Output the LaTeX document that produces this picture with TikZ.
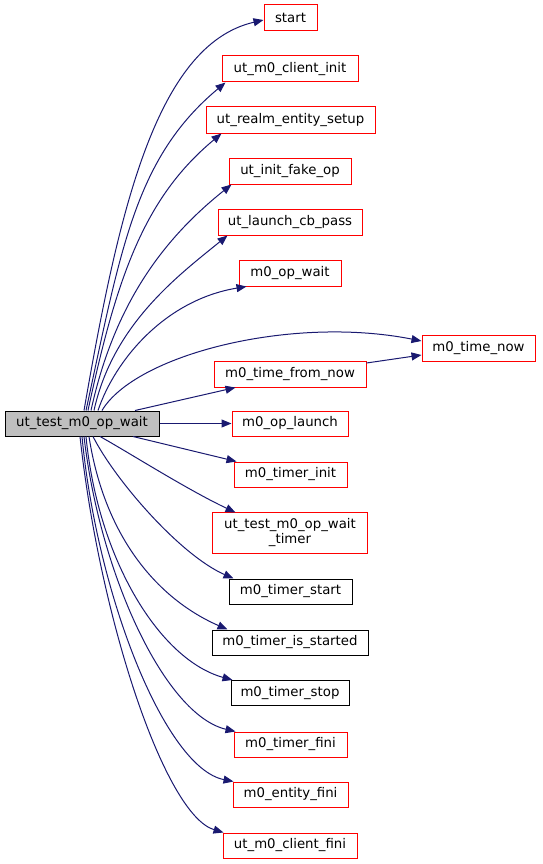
\documentclass[tikz,border=0pt]{standalone}
\usepackage{fontspec}
\setmainfont{DejaVu Sans}
\usetikzlibrary{arrows.meta,calc}
\definecolor{edgeblue}{RGB}{25,25,112}
\definecolor{maingray}{RGB}{191,191,191}
\definecolor{boxred}{RGB}{255,0,0}
\begin{document}
\begin{tikzpicture}[x=1pt,y=-1pt,
  box/.style={draw=boxred, line width=1pt, fill=white, inner sep=0pt, minimum height=25pt,
    font=\fontsize{13.3}{15}\selectfont, align=center},
  blackbox/.style={box, draw=black},
  mainbox/.style={box, draw=black, fill=maingray},
  edge/.style={draw=edgeblue, line width=1pt, -{Triangle[length=10pt,width=8pt]}},
]
\useasboundingbox (0,0) rectangle (543,864);

\node[mainbox, minimum width=154pt] (main) at (82,423.5) {ut\_test\_m0\_op\_wait};

\node[box, minimum width=53pt, minimum height=26pt] (start) at (290.5,18) {start};
\node[box, minimum width=136pt, minimum height=26pt] (clinit) at (290,69) {ut\_m0\_client\_init};
\node[box, minimum width=169pt, minimum height=26pt] (realm) at (290.5,120) {ut\_realm\_entity\_setup};
\node[box, minimum width=122pt, minimum height=26pt] (fakeop) at (290,171) {ut\_init\_fake\_op};
\node[box, minimum width=144pt, minimum height=26pt] (cbpass) at (290,222) {ut\_launch\_cb\_pass};
\node[box, minimum width=102pt, minimum height=26pt] (opwait) at (290,273) {m0\_op\_wait};
\node[box, minimum width=113pt, minimum height=26pt] (tnow) at (478.5,348) {m0\_time\_now};
\node[box, minimum width=152pt, minimum height=26pt] (tfn) at (290,374) {m0\_time\_from\_now};
\node[box, minimum width=116pt] (oplaunch) at (290,423.5) {m0\_op\_launch};
\node[box, minimum width=113pt] (tinit) at (290.5,474.5) {m0\_timer\_init};
\node[box, draw=none, fill=none, minimum width=154pt, minimum height=40pt] (wtimer) at (290,533) {ut\_test\_m0\_op\_wait\\\_timer};
\draw[draw=boxred, line width=1pt] (wtimer.south west) rectangle (wtimer.north east);
\node[blackbox, minimum width=123pt] (tstart) at (290.5,591.5) {m0\_timer\_start};
\node[blackbox, minimum width=156pt] (tisst) at (290,642.5) {m0\_timer\_is\_started};
\node[blackbox, minimum width=118pt] (tstop) at (290,693) {m0\_timer\_stop};
\node[box, minimum width=113pt] (tfini) at (290.5,744.5) {m0\_timer\_fini};
\node[box, minimum width=115pt] (efini) at (290.5,794.5) {m0\_entity\_fini};
\node[box, minimum width=134pt] (clfini) at (290,845.5) {ut\_m0\_client\_fini};

% upper edges
\draw[edge] ($(main.north)+(2,0)$) .. controls (118,215) and (155,45) .. ($(start.west)+(0,2)$);
\draw[edge] ($(main.north)+(4,0)$) .. controls (121,249) and (135,158) .. ($(clinit.south west)+(4,0)$);
\draw[edge] ($(main.north)+(6,0)$) .. controls (117,275) and (145,197) .. ($(realm.south west)+(16,0)$);
\draw[edge] ($(main.north)+(9,0)$) .. controls (115,300) and (167,236) .. ($(fakeop.south west)+(3,0)$);
\draw[edge] ($(main.north)+(12,0)$) .. controls (113,324) and (179,275) .. ($(cbpass.south west)+(10,0)$);
\draw[edge] ($(main.north)+(16,0)$) .. controls (115,360) and (165,300) .. ($(opwait.south west)+(8,0)$);
\draw[edge] ($(main.north)+(20,0)$) .. controls (135,355) and (290,315) .. ($(tnow.west)+(0,-7)$);
\draw[edge] ($(main.north)+(53,0)$) -- ($(tfn.south west)+(22,0)$);
\draw[edge] ($(tfn.east)+(0,-11)$) -- ($(tnow.west)+(0,7)$);
\draw[edge] (main.east) -- (oplaunch.west);

% lower edges
\draw[edge] ($(main.south)+(51,0)$) -- ($(tinit.north west)+(3,0)$);
\draw[edge] ($(main.south)+(18,0)$) .. controls (128,452) and (186,489) .. ($(wtimer.north west)+(23,0)$);
\draw[edge] ($(main.south)+(11,0)$) .. controls (115,480) and (180,555) .. ($(tstart.north west)+(5,0)$);
\draw[edge] ($(main.south)+(7,0)$) .. controls (105,540) and (160,600) .. ($(tisst.north west)+(16,0)$);
\draw[edge] ($(main.south)+(4,0)$) .. controls (98,560) and (160,660) .. ($(tstop.north west)+(2,0)$);
\draw[edge] ($(main.south)+(2,0)$) .. controls (100,575) and (165,715) .. ($(tfini.north west)+(2,0)$);
\draw[edge] ($(main.south)+(0,0)$) .. controls (97,595) and (165,768) .. ($(efini.north west)+(1,0)$);
\draw[edge] ($(main.south)+(-2,0)$) .. controls (100,620) and (165,815) .. ($(clfini.north west)+(1,0)$);
\end{tikzpicture}
\end{document}
